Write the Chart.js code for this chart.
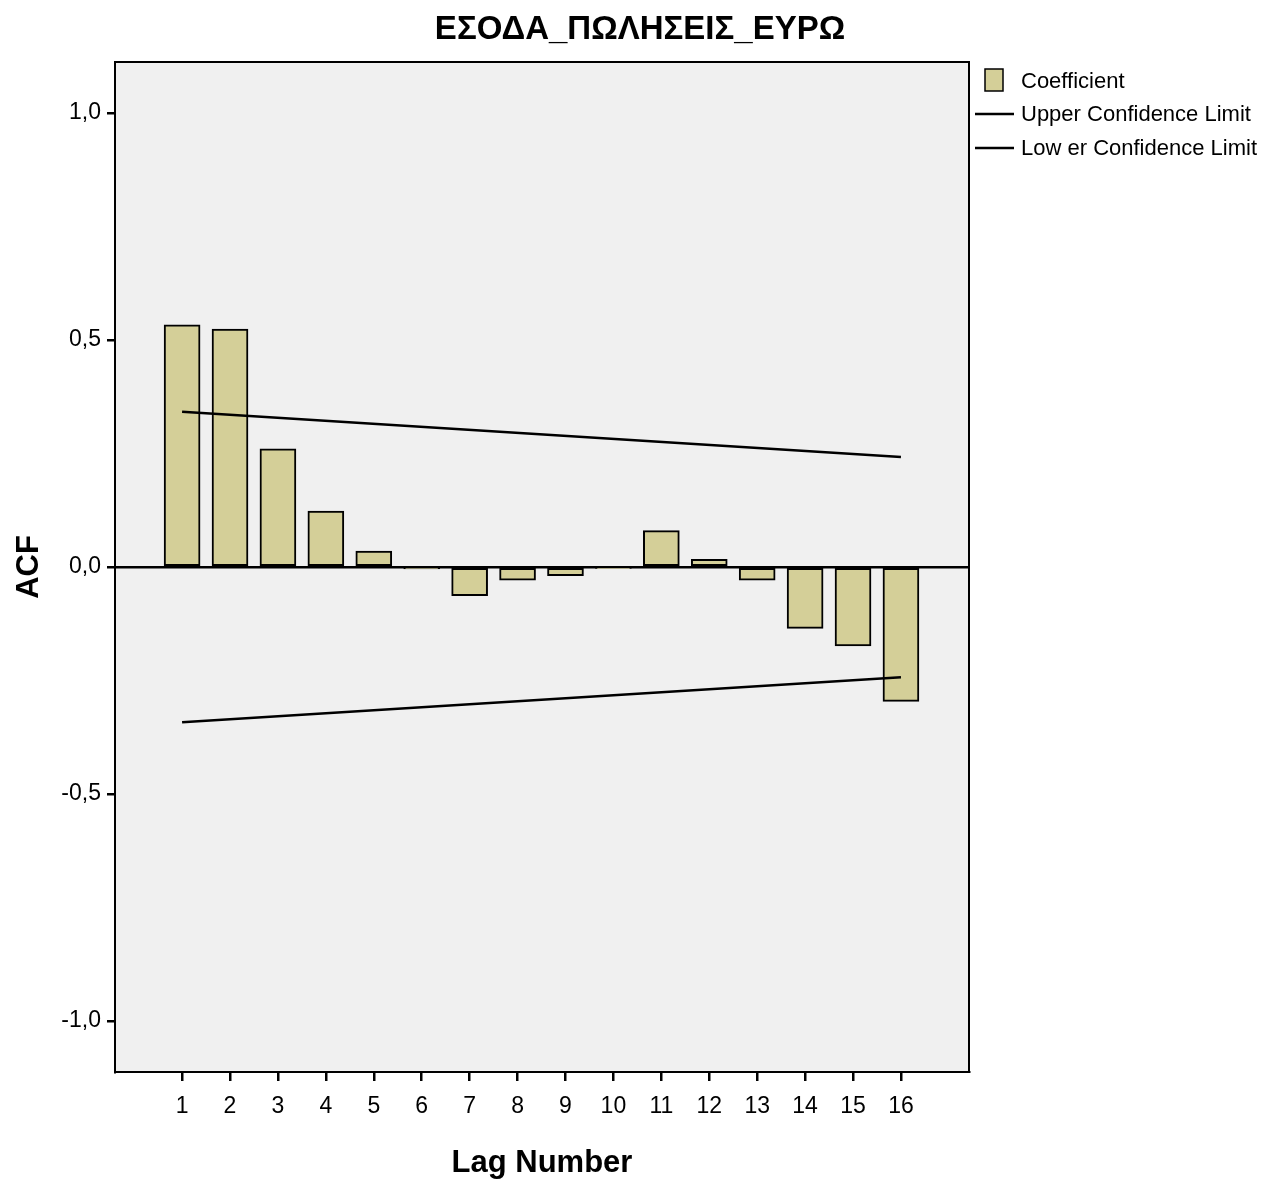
<!DOCTYPE html>
<html lang="el">
<head>
  <meta charset="UTF-8" />
  <title>ACF</title>
  <script src="https://cdn.jsdelivr.net/npm/chart.js"></script>
  <style>
    body { margin: 0; background: #fff; }
    canvas { display: block; }
  </style>
</head>
<body>
  <canvas id="acfChart" width="1280" height="1182"></canvas>
  <script>
    // lag numbers and ACF coefficients
    const lags = [1, 2, 3, 4, 5, 6, 7, 8, 9, 10, 11, 12, 13, 14, 15, 16];
    const acf = [0.533, 0.524, 0.260, 0.123, 0.035, -0.004, -0.063, -0.029, -0.019, -0.003, 0.080, 0.017, -0.029, -0.135, -0.174, -0.296];

    // confidence limits (straight lines from lag 1 to lag 16)
    const limitLags = [1, 16];
    const upperLimit = [0.342, 0.242];
    const lowerLimit = [-0.342, -0.243];

    const yTicks = [-1, -0.5, 0, 0.5, 1];

    const legendItems = ["Coefficient", "Upper Confidence Limit", "Low er Confidence Limit"];

    const FONT = "'Liberation Sans', Arial, sans-serif";
    const barFill = "#d4cf98";

    // grey plot background + frame
    const framePlugin = {
      id: 'frame',
      beforeDraw: (chart) => {
        const a = chart.chartArea;
        const ctx = chart.ctx;
        ctx.save();
        ctx.fillStyle = "#f0f0f0";
        ctx.fillRect(a.left, a.top, a.right - a.left, a.bottom - a.top);
        ctx.restore();
      },
      afterDraw: (chart) => {
        const a = chart.chartArea;
        const ctx = chart.ctx;
        ctx.save();
        ctx.strokeStyle = "#000";
        ctx.lineWidth = 2;
        ctx.strokeRect(a.left, a.top, a.right - a.left, a.bottom - a.top);
        ctx.restore();
      }
    };

    // SPSS style legend on the right
    const legendPlugin = {
      id: 'sideLegend',
      afterDraw: (chart) => {
        const ctx = chart.ctx;
        ctx.save();
        ctx.font = "22px " + FONT;
        ctx.textBaseline = "middle";

        ctx.fillStyle = barFill;
        ctx.fillRect(985, 69, 18, 22);
        ctx.strokeStyle = "#000";
        ctx.lineWidth = 1.5;
        ctx.strokeRect(985, 69, 18, 22);

        ctx.fillStyle = "#000";
        ctx.fillText(legendItems[0], 1021, 82);

        ctx.lineWidth = 2.5;
        [[legendItems[1], 115], [legendItems[2], 149]].forEach(([txt, y]) => {
          ctx.beginPath();
          ctx.moveTo(975, y - 1);
          ctx.lineTo(1014, y - 1);
          ctx.stroke();
          ctx.fillText(txt, 1021, y);
        });
        ctx.restore();
      }
    };

    const fmt = (v) => v.toFixed(1).replace('.', ',');

    new Chart(document.getElementById("acfChart"), {
      data: {
        datasets: [
          {
            type: 'line',
            label: legendItems[1],
            data: limitLags.map((x, i) => ({ x: x, y: upperLimit[i] })),
            borderColor: "#000",
            borderWidth: 2.5,
            pointRadius: 0,
            order: 1
          },
          {
            type: 'line',
            label: legendItems[2],
            data: limitLags.map((x, i) => ({ x: x, y: lowerLimit[i] })),
            borderColor: "#000",
            borderWidth: 2.5,
            pointRadius: 0,
            order: 1
          },
          {
            type: 'bar',
            label: legendItems[0],
            data: lags.map((x, i) => ({ x: x, y: acf[i] })),
            backgroundColor: barFill,
            borderColor: "#000",
            borderWidth: 2,
            borderSkipped: false,
            barThickness: 36,
            order: 2
          }
        ]
      },
      options: {
        responsive: false,
        animation: false,
        devicePixelRatio: 1,
        layout: { padding: 0 },
        plugins: {
          legend: { display: false },
          tooltip: { enabled: false },
          title: {
            display: true,
            text: "ΕΣΟΔΑ_ΠΩΛΗΣΕΙΣ_ΕΥΡΩ",
            color: "#000",
            font: { family: FONT, size: 33, weight: 'bold', lineHeight: 1.2 },
            padding: { top: 10, bottom: 12.4 }
          }
        },
        scales: {
          x: {
            type: 'linear',
            position: 'bottom',
            offset: false,
            min: -0.4,
            max: 17.42,
            afterBuildTicks: (axis) => { axis.ticks = lags.map(v => ({ value: v })); },
            afterFit: (axis) => { axis.height = 110; },
            grid: {
              offset: false,
              drawOnChartArea: false,
              tickLength: 9,
              tickColor: "#000",
              tickWidth: 2.5,
              lineWidth: 2.5
            },
            border: { color: "#000", width: 2 },
            ticks: {
              color: "#000",
              font: { family: FONT, size: 23 },
              padding: 12,
              maxRotation: 0,
              callback: (v) => String(v)
            },
            title: {
              display: true,
              text: "Lag Number",
              color: "#000",
              font: { family: FONT, size: 31, weight: 'bold', lineHeight: 1.2 },
              padding: { top: 0, bottom: 0 }
            }
          },
          y: {
            type: 'linear',
            position: 'left',
            min: -1.112,
            max: 1.112,
            afterBuildTicks: (axis) => { axis.ticks = yTicks.map(v => ({ value: v })); },
            afterFit: (axis) => { axis.width = 115; },
            grid: {
              color: (c) => (c.tick && c.tick.value === 0) ? "#000" : "rgba(0,0,0,0)",
              tickColor: "#000",
              tickLength: 8,
              tickWidth: 2.5,
              lineWidth: 2.5
            },
            border: { color: "#000", width: 2 },
            ticks: {
              color: "#000",
              font: { family: FONT, size: 23 },
              padding: 6,
              callback: (v) => fmt(v)
            },
            title: {
              display: true,
              text: "ACF",
              color: "#000",
              font: { family: FONT, size: 31, weight: 'bold', lineHeight: 1.2 },
              padding: { top: 11, bottom: 0 }
            }
          },
          // empty space on the right for the legend
          pad: {
            axis: 'y',
            type: 'linear',
            position: 'right',
            display: true,
            grid: { display: false },
            border: { display: false },
            ticks: { display: false },
            afterFit: (axis) => { axis.width = 311; }
          }
        }
      },
      plugins: [framePlugin, legendPlugin]
    });
  </script>
</body>
</html>
